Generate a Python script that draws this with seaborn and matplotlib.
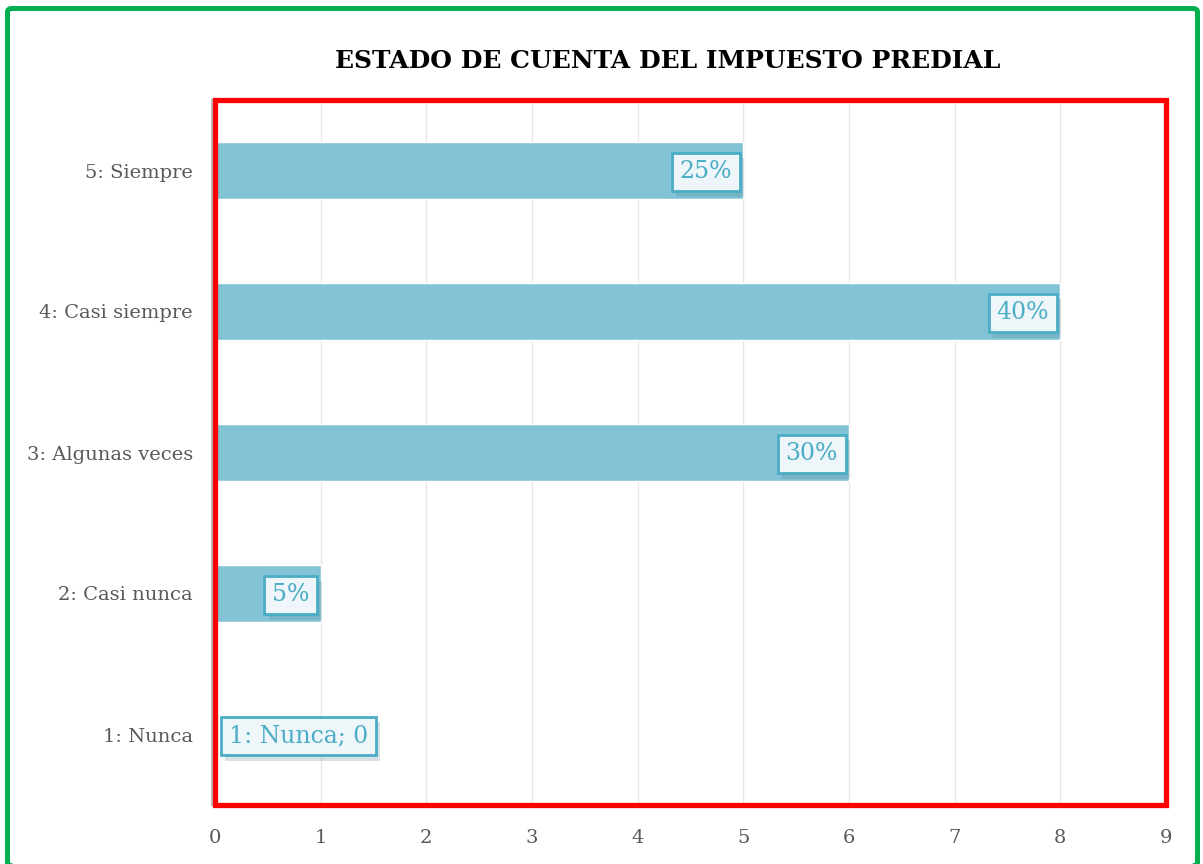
import matplotlib.pyplot as plt
import matplotlib.patches as mpatches
import matplotlib.patheffects as pe
import numpy as np
import pandas as pd
import seaborn as sns

categorias = ["5: Siempre", "4: Casi siempre", "3: Algunas veces", "2: Casi nunca", "1: Nunca"]
valores = [5, 8, 6, 1, 0]
etiquetas = ["25%", "40%", "30%", "5%", "1: Nunca; 0"]
ticks_x = list(range(0, 10))

df = pd.DataFrame({"categoria": categorias, "valor": valores})

sns.set_theme(style="white")
plt.rcParams['font.family'] = ['DejaVu Serif']

fig = plt.figure(figsize=(12.03, 8.64), dpi=100)
ax = fig.add_axes([215 / 1203, 1 - 805 / 864, (1166 - 215) / 1203, (805 - 100) / 864])

sns.barplot(data=df, x="valor", y="categoria", order=categorias, orient="h",
            color="#82c4d6", saturation=1, width=0.4, ax=ax, zorder=2)

ax.set_xlim(0, 9)
ax.set_ylim(4.5, -0.5)
ax.set_xticks(ticks_x)
ax.set_xticklabels([str(t) for t in ticks_x], fontsize=14, color="#595959")
ax.tick_params(axis="x", length=0, pad=17)
ax.tick_params(axis="y", length=0, pad=14, labelsize=14, labelcolor="#595959")
for lab in ax.get_yticklabels():
    lab.set_color("#595959")
ax.set_xlabel("")
ax.set_ylabel("")
ax.grid(axis="x", color="#e6e6e6", linewidth=1, zorder=0)
ax.set_axisbelow(True)

for s in ["top", "right", "bottom"]:
    ax.spines[s].set_visible(False)
ax.spines["left"].set_color("#bfbfbf")
ax.spines["left"].set_linewidth(1.5)
ax.spines["left"].set_position(("outward", 2))
ax.set_yticks(np.arange(-0.5, 5, 1), minor=True)
ax.tick_params(axis="y", which="minor", length=5, color="#bfbfbf", width=1.5)

# etiquetas de datos
for i, (v, t) in enumerate(zip(valores, etiquetas)):
    if v > 0:
        xy, off, ha = (v, i), (-8, -1), "right"
    else:
        xy, off, ha = (v, i), (10, -1), "left"
    txt = ax.annotate(t, xy=xy, xytext=off, textcoords="offset points",
                      ha=ha, va="center", fontsize=17, color="#4bacc6", zorder=5,
                      bbox=dict(boxstyle="square,pad=0.33", fc="#eef6f9",
                                ec="#4bacc6", lw=2))
    txt.get_bbox_patch().set_path_effects(
        [pe.SimplePatchShadow(offset=(3, -4), shadow_rgbFace="#5a8a9a", alpha=0.25), pe.Normal()])

# marco rojo del área de trazado
ax.add_patch(mpatches.Rectangle((0, 0), 1, 1, transform=ax.transAxes, fill=False,
                                ec="#ff0000", lw=3.8, clip_on=False, zorder=10))

# marco verde del gráfico
fig.patches.append(mpatches.FancyBboxPatch((7.5 / 1203, -0.002), (1197.5 - 7.5) / 1203, 1 - 8.5 / 864 + 0.002,
                                           boxstyle="round,pad=0,rounding_size=0.004",
                                           transform=fig.transFigure, fill=False,
                                           ec="#00b050", lw=3.6))

fig.text(668 / 1203, 1 - 61 / 864, "ESTADO DE CUENTA DEL IMPUESTO PREDIAL",
         ha="center", va="center", fontsize=18, fontweight="bold", color="black")

fig.savefig("out.png", dpi=100)
